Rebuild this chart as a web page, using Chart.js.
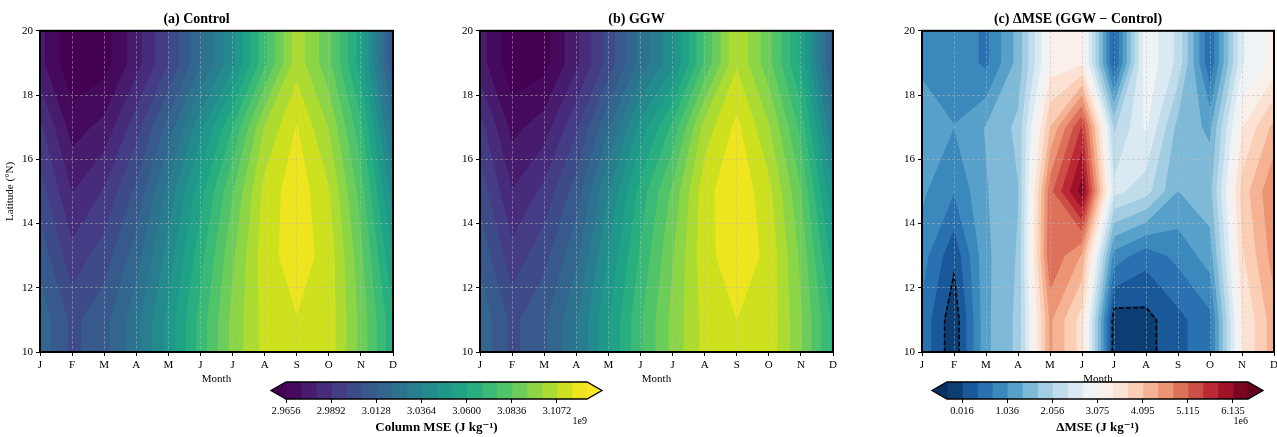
<!DOCTYPE html>
<html>
<head>
<meta charset="utf-8">
<script src="https://cdn.jsdelivr.net/npm/chart.js@4"></script>
<style>
  body { margin: 0; background: #fff; width: 1277px; height: 437px; position: relative; overflow: hidden; }
  .box { position: absolute; }
</style>
</head>
<body>
<div class="box" style="left:0;top:0;width:404px;height:392px"><canvas id="pa"></canvas></div>
<div class="box" style="left:440px;top:0;width:404px;height:392px"><canvas id="pb"></canvas></div>
<div class="box" style="left:872px;top:0;width:405px;height:392px"><canvas id="pc"></canvas></div>
<div class="box" style="left:240px;top:368px;width:400px;height:69px"><canvas id="cb1"></canvas></div>
<div class="box" style="left:900px;top:368px;width:377px;height:69px"><canvas id="cb2"></canvas></div>
<script>
const months = [1, 2, 3, 4, 5, 6, 7, 8, 9, 10, 11, 12];
const monthLabels = ['J', 'F', 'M', 'A', 'M', 'J', 'J', 'A', 'S', 'O', 'N', 'D'];
const lats = [11, 13, 15, 17, 19];

// column MSE, 1e9 J/kg, one row per latitude (11..19 N), one column per month
const mseControl = [
  [3.018, 3.003, 3.010, 3.026, 3.047, 3.071, 3.094, 3.110, 3.1148, 3.112, 3.089, 3.062],
  [3.010, 2.992, 3.001, 3.017, 3.040, 3.065, 3.090, 3.112, 3.119, 3.112, 3.086, 3.052],
  [3.001, 2.981, 2.990, 3.007, 3.031, 3.057, 3.083, 3.110, 3.120, 3.108, 3.080, 3.040],
  [2.991, 2.970, 2.976, 2.994, 3.016, 3.042, 3.068, 3.100, 3.1157, 3.099, 3.070, 3.024],
  [2.976, 2.959, 2.962, 2.978, 2.997, 3.020, 3.042, 3.074, 3.104, 3.086, 3.056, 3.006]
];
const mseGGW = [
  [3.0186, 3.0028, 3.0113, 3.0278, 3.0515, 3.0746, 3.0938, 3.1099, 3.1151, 3.1126, 3.0924, 3.0663],
  [3.0109, 2.9921, 3.0023, 3.0188, 3.0451, 3.0694, 3.0909, 3.1125, 3.1198, 3.1132, 3.0897, 3.0566],
  [3.0021, 2.9817, 2.9914, 3.0087, 3.0360, 3.0633, 3.0855, 3.1122, 3.1214, 3.1096, 3.0839, 3.0448],
  [2.9923, 2.9710, 2.9774, 2.9958, 3.0201, 3.0475, 3.0700, 3.1028, 3.1173, 3.1003, 3.0734, 3.0282],
  [2.9770, 2.9600, 2.9626, 2.9795, 3.0002, 3.0234, 3.0423, 3.0770, 3.1063, 3.0864, 3.0587, 3.0092]
];
// GGW - Control, 1e6 J/kg
const mseDelta = [
  [0.6, -0.25, 1.3, 1.8, 4.5, 3.6, -0.2, -0.12, 0.25, 0.6, 3.4, 4.3],
  [0.85, 0.1, 1.3, 1.75, 5.1, 4.4, 0.9, 0.5, 0.8, 1.2, 3.7, 4.6],
  [1.1, 0.72, 1.35, 1.7, 5.0, 6.3, 2.5, 2.2, 1.37, 1.6, 3.9, 4.75],
  [1.3, 1.04, 1.4, 1.8, 4.1, 5.5, 2.0, 2.8, 1.6, 1.3, 3.4, 4.2],
  [0.95, 0.95, 0.62, 1.5, 3.2, 3.35, 0.3, 3.0, 2.3, 0.4, 2.7, 3.2]
];

const levelsMSE = [2.9656, 2.97347, 2.98133, 2.9892, 2.99707, 3.00493, 3.0128, 3.02067, 3.02853, 3.0364,
  3.04427, 3.05213, 3.0600, 3.06787, 3.07573, 3.0836, 3.09147, 3.09933, 3.1072, 3.11507, 3.12293];
const tickIdxMSE = [0, 3, 6, 9, 12, 15, 18];
const tickLabelsMSE = ['2.9656', '2.9892', '3.0128', '3.0364', '3.0600', '3.0836', '3.1072'];

const levelsDelta = [-0.3242, 0.0158, 0.3557, 0.6957, 1.0357, 1.3756, 1.7156, 2.0556, 2.3955, 2.7355, 3.0755,
  3.4154, 3.7554, 4.0954, 4.4353, 4.7753, 5.1153, 5.4552, 5.7952, 6.1352, 6.4751];
const tickIdxDelta = [1, 4, 7, 10, 13, 16, 19];
const tickLabelsDelta = ['0.016', '1.036', '2.056', '3.075', '4.095', '5.115', '6.135'];

const FONT = "'Liberation Serif', 'DejaVu Serif', serif";
Chart.defaults.font.family = FONT;
Chart.defaults.color = '#000';

const viridis = ['#440154', '#471365', '#482475', '#463480', '#414487', '#3b528b', '#355f8d', '#2f6c8e', '#2a788e',
  '#25848e', '#21918c', '#1e9c89', '#22a884', '#2fb47c', '#44bf70', '#5ec962', '#7ad151', '#9bd93c', '#bddf26', '#dfe318', '#fde725'];
const rdbuR = ['#053061', '#2166ac', '#4393c3', '#92c5de', '#d1e5f0', '#f7f7f7', '#fddbc7', '#f4a582', '#d6604d', '#b2182b', '#67001f'];

function colormap(stops) {
  const rgb = stops.map(h => [1, 3, 5].map(k => parseInt(h.slice(k, k + 2), 16)));
  return t => {
    t = Math.min(1, Math.max(0, t));
    const p = t * (rgb.length - 1);
    const i = Math.min(rgb.length - 2, Math.floor(p));
    const f = p - i;
    const c = rgb[i].map((v, k) => Math.round(v + f * (rgb[i + 1][k] - v)));
    return 'rgb(' + c.join(',') + ')';
  };
}
// under, one colour per band, over
function bandColors(cmap, levels) {
  const n = levels.length - 1;
  const out = [cmap(0)];
  for (let k = 0; k < n; k++) out.push(cmap((k + 0.5) / n));
  out.push(cmap(1));
  return out;
}
const colorsMSE = bandColors(colormap(viridis), levelsMSE);
const colorsDelta = bandColors(colormap(rdbuR), levelsDelta);

// keep the part of a polygon where the value >= lev
function clipAbove(poly, lev) {
  const out = [];
  for (let n = 0; n < poly.length; n++) {
    const a = poly[n], b = poly[(n + 1) % poly.length];
    const ina = a[2] >= lev, inb = b[2] >= lev;
    if (ina) out.push(a);
    if (ina !== inb) {
      const t = (lev - a[2]) / (b[2] - a[2]);
      out.push([a[0] + t * (b[0] - a[0]), a[1] + t * (b[1] - a[1]), lev]);
    }
  }
  return out;
}

function contourFill(field, levels, colors) {
  return {
    id: 'contourFill',
    beforeDatasetsDraw(chart) {
      const { ctx, chartArea: a, scales: { x, y } } = chart;
      const ys = [y.min, ...lats, y.max];
      const rows = [field[0], ...field, field[field.length - 1]];
      const quads = [];
      for (let j = 0; j < ys.length - 1; j++) {
        for (let i = 0; i < months.length - 1; i++) {
          const x0 = x.getPixelForValue(months[i]), x1 = x.getPixelForValue(months[i + 1]);
          const y0 = y.getPixelForValue(ys[j]), y1 = y.getPixelForValue(ys[j + 1]);
          quads.push([[x0, y0, rows[j][i]], [x1, y0, rows[j][i + 1]], [x1, y1, rows[j + 1][i + 1]], [x0, y1, rows[j + 1][i]]]);
        }
      }
      const paint = (polys, color) => {
        ctx.beginPath();
        polys.forEach(p => {
          ctx.moveTo(p[0][0], p[0][1]);
          for (let n = 1; n < p.length; n++) ctx.lineTo(p[n][0], p[n][1]);
          ctx.closePath();
        });
        ctx.fillStyle = color;
        ctx.fill();
      };
      ctx.save();
      ctx.beginPath();
      ctx.rect(a.left, a.top, a.right - a.left, a.bottom - a.top);
      ctx.clip();
      paint(quads, colors[0]);
      levels.forEach((lev, k) => {
        const polys = quads.map(q => clipAbove(q, lev)).filter(p => p.length > 2);
        if (polys.length) paint(polys, colors[k + 1]);
      });
      ctx.restore();
    }
  };
}

// marching squares for one level, chained into polylines
function contourLines(field, level, yMin, yMax) {
  const ys = [yMin, ...lats, yMax];
  const rows = [field[0], ...field, field[field.length - 1]];
  const segs = [];
  for (let j = 0; j < ys.length - 1; j++) {
    for (let i = 0; i < months.length - 1; i++) {
      const c = [[months[i], ys[j], rows[j][i]], [months[i + 1], ys[j], rows[j][i + 1]],
        [months[i + 1], ys[j + 1], rows[j + 1][i + 1]], [months[i], ys[j + 1], rows[j + 1][i]]];
      const pts = [];
      for (let e = 0; e < 4; e++) {
        const a = c[e], b = c[(e + 1) % 4];
        if ((a[2] < level) !== (b[2] < level)) {
          const t = (level - a[2]) / (b[2] - a[2]);
          pts.push([a[0] + t * (b[0] - a[0]), a[1] + t * (b[1] - a[1])]);
        }
      }
      if (pts.length === 2) segs.push(pts);
      if (pts.length === 4) { segs.push([pts[0], pts[1]]); segs.push([pts[2], pts[3]]); }
    }
  }
  const key = p => p[0].toFixed(5) + ',' + p[1].toFixed(5);
  const used = segs.map(() => false);
  const lines = [];
  for (let s = 0; s < segs.length; s++) {
    if (used[s]) continue;
    used[s] = true;
    const line = [segs[s][0], segs[s][1]];
    let grew = true;
    while (grew) {
      grew = false;
      for (let t = 0; t < segs.length; t++) {
        if (used[t]) continue;
        const [p, q] = segs[t];
        const head = key(line[0]), tail = key(line[line.length - 1]);
        if (key(p) === tail) line.push(q);
        else if (key(q) === tail) line.push(p);
        else if (key(q) === head) line.unshift(p);
        else if (key(p) === head) line.unshift(q);
        else continue;
        used[t] = true;
        grew = true;
      }
    }
    lines.push(line);
  }
  return lines;
}

const framePlugin = {
  id: 'frame',
  afterDraw(chart) {
    const { ctx, chartArea: a } = chart;
    ctx.save();
    ctx.strokeStyle = '#000';
    ctx.lineWidth = 2;
    ctx.strokeRect(a.left, a.top, a.right - a.left, a.bottom - a.top);
    ctx.restore();
  }
};

function makePanel(id, title, field, levels, colors, yTitle, lines, pad) {
  const gridOpts = {
    z: 1, color: 'rgba(185,185,185,0.6)', lineWidth: 0.8, borderDash: [3, 2],
    drawTicks: true, tickLength: 4, tickColor: '#000', tickWidth: 1
  };
  return new Chart(document.getElementById(id), {
    type: 'scatter',
    data: {
      datasets: lines.map(pts => ({
        data: pts.map(p => ({ x: p[0], y: p[1] })),
        showLine: true, borderColor: '#000', borderWidth: 1.6, borderDash: [4.5, 2.5],
        pointRadius: 0, fill: false, tension: 0
      }))
    },
    options: {
      responsive: true, maintainAspectRatio: false, animation: false, events: [],
      layout: { padding: pad },
      plugins: {
        legend: { display: false }, tooltip: { enabled: false },
        title: { display: true, text: title, font: { size: 14, weight: 'bold' }, color: '#000', padding: { top: 11, bottom: 3 } }
      },
      scales: {
        x: {
          type: 'linear', min: 1, max: 12,
          afterFit: s => { s.height = 40; s.paddingLeft = 0; s.paddingRight = 0; },
          ticks: { stepSize: 1, autoSkip: false, maxRotation: 0, padding: 3, font: { size: 11 }, color: '#000',
            callback: v => monthLabels[Math.round(v) - 1] },
          grid: gridOpts,
          border: { display: false, dash: [3, 2] },
          title: { display: true, text: 'Month', font: { size: 11 }, color: '#000', padding: { top: 0, bottom: 6 } }
        },
        y: {
          type: 'linear', min: 10, max: 20,
          afterFit: s => { s.width = 40; },
          ticks: { stepSize: 2, padding: 3, font: { size: 11 }, color: '#000' },
          grid: gridOpts,
          border: { display: false, dash: [3, 2] },
          title: { display: yTitle, text: 'Latitude (°N)', font: { size: 11 }, color: '#000', padding: { top: 4, bottom: 0 } }
        }
      }
    },
    plugins: [contourFill(field, levels, colors), framePlugin]
  });
}

function makeColorbar(id, levels, colors, tickIdx, tickLabels, label, offsetText, pad) {
  const ext = 15;
  const extPlugin = {
    id: 'extend',
    afterDatasetsDraw(chart) {
      const { ctx, chartArea: a } = chart;
      const mid = (a.top + a.bottom) / 2;
      ctx.save();
      ctx.fillStyle = colors[0];
      ctx.beginPath(); ctx.moveTo(a.left + 0.5, a.top); ctx.lineTo(a.left - ext, mid); ctx.lineTo(a.left + 0.5, a.bottom); ctx.closePath(); ctx.fill();
      ctx.fillStyle = colors[colors.length - 1];
      ctx.beginPath(); ctx.moveTo(a.right - 0.5, a.top); ctx.lineTo(a.right + ext, mid); ctx.lineTo(a.right - 0.5, a.bottom); ctx.closePath(); ctx.fill();
      ctx.strokeStyle = '#000';
      ctx.lineWidth = 1.3;
      ctx.beginPath();
      ctx.moveTo(a.left, a.top); ctx.lineTo(a.right, a.top); ctx.lineTo(a.right + ext, mid); ctx.lineTo(a.right, a.bottom);
      ctx.lineTo(a.left, a.bottom); ctx.lineTo(a.left - ext, mid); ctx.closePath();
      ctx.stroke();
      ctx.fillStyle = '#000';
      ctx.font = '10px ' + FONT;
      ctx.textAlign = 'right';
      ctx.textBaseline = 'middle';
      ctx.fillText(offsetText, a.right, 53);
      ctx.restore();
    }
  };
  return new Chart(document.getElementById(id), {
    type: 'bar',
    data: {
      labels: [''],
      datasets: levels.slice(0, -1).map((lo, k) => ({
        data: [[lo, levels[k + 1]]], backgroundColor: colors[k + 1], borderWidth: 0,
        barPercentage: 1, categoryPercentage: 1, grouped: false, inflateAmount: 0.5
      }))
    },
    options: {
      indexAxis: 'y',
      responsive: true, maintainAspectRatio: false, animation: false, events: [],
      layout: { padding: pad },
      plugins: { legend: { display: false }, tooltip: { enabled: false } },
      scales: {
        x: {
          type: 'linear', min: levels[0], max: levels[levels.length - 1],
          afterBuildTicks: s => { s.ticks = tickIdx.map(i => ({ value: levels[i] })); },
          afterFit: s => { s.height = 38; s.paddingLeft = 0; s.paddingRight = 0; },
          ticks: { autoSkip: false, maxRotation: 0, padding: 2, font: { size: 10.5 }, color: '#000',
            callback: (v, i) => tickLabels[i] },
          grid: { drawOnChartArea: false, drawTicks: true, tickLength: 4, tickColor: '#000', tickWidth: 1 },
          border: { display: false },
          title: { display: true, text: label, font: { size: 13, weight: 'bold' }, color: '#000', padding: { top: 3, bottom: 2 } }
        },
        y: { display: false }
      }
    },
    plugins: [extPlugin]
  });
}

makePanel('pa', '(a) Control', mseControl, levelsMSE, colorsMSE, true, [],
  { left: 0, right: 11, top: 0, bottom: 0 });
makePanel('pb', '(b) GGW', mseGGW, levelsMSE, colorsMSE, false, [],
  { left: 0, right: 11, top: 0, bottom: 0 });
makePanel('pc', '(c) ΔMSE (GGW − Control)', mseDelta, levelsDelta, colorsDelta, false, contourLines(mseDelta, 0, 10, 20),
  { left: 10, right: 3, top: 0, bottom: 0 });
makeColorbar('cb1', levelsMSE, colorsMSE, tickIdxMSE, tickLabelsMSE, 'Column MSE (J kg⁻¹)', '1e9',
  { left: 46, right: 53, top: 14, bottom: 0 });
makeColorbar('cb2', levelsDelta, colorsDelta, tickIdxDelta, tickLabelsDelta, 'ΔMSE (J kg⁻¹)', '1e6',
  { left: 47, right: 29, top: 14, bottom: 0 });
</script>
</body>
</html>
